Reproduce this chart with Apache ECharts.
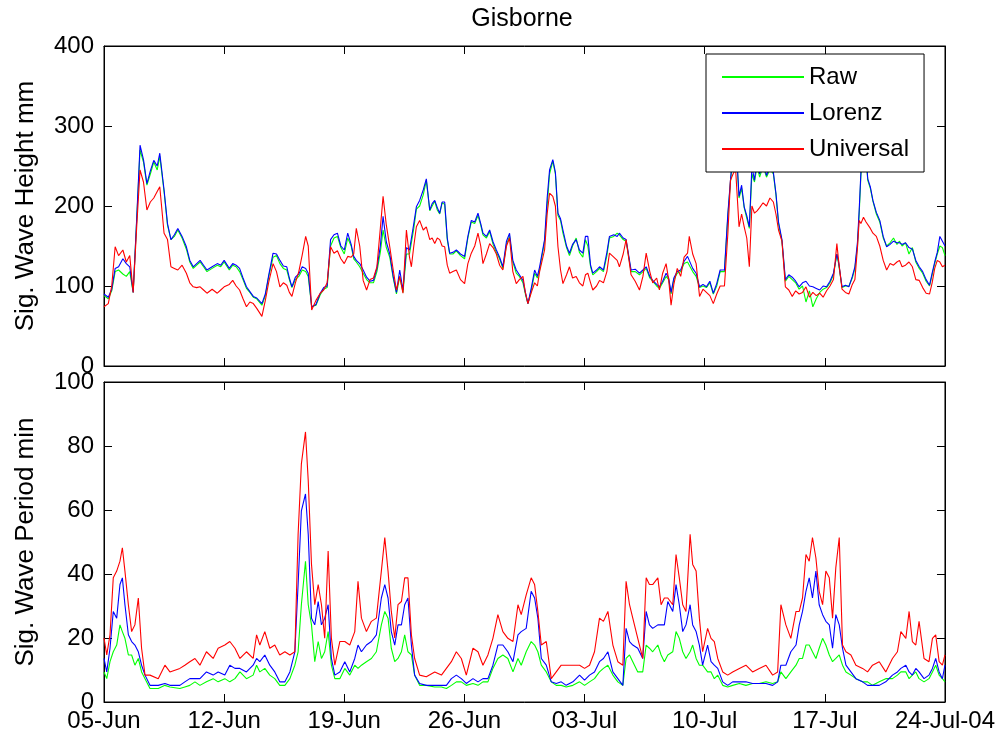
<!DOCTYPE html>
<html>
<head>
<meta charset="utf-8">
<script src="https://cdn.jsdelivr.net/npm/echarts/dist/echarts.min.js"></script>
<style>
html,body{margin:0;padding:0;background:#fff;}
#chart{width:998px;height:738px;}
</style>
</head>
<body>
<div id="chart"></div>
<script>
// ---- Data (days since 05-Jun-2004) ----
var xTickLabels = ['05-Jun','12-Jun','19-Jun','26-Jun','03-Jul','10-Jul','17-Jul','24-Jul-04'];
var seriesNames = ['Raw','Lorenz','Universal'];

// Top panel: significant wave height (mm)
var dayTop = [0.0,0.25,0.45,0.65,0.85,1.1,1.3,1.5,1.7,1.9,2.1,2.3,2.5,2.7,2.9,3.1,3.25,3.5,3.7,3.9,4.1,4.3,4.55,4.8,5.0,5.2,5.4,5.6,5.8,6.0,6.3,6.6,6.8,7.0,7.3,7.5,7.7,7.9,8.1,8.3,8.5,8.7,8.9,9.2,9.4,9.6,9.85,10.05,10.25,10.45,10.65,10.8,10.95,11.15,11.35,11.55,11.75,11.9,12.1,12.35,12.6,12.8,13.0,13.2,13.4,13.6,13.8,14.0,14.2,14.4,14.55,14.7,14.9,15.1,15.3,15.5,15.7,15.9,16.1,16.26,16.45,16.65,16.85,17.04,17.23,17.42,17.62,17.8,17.91,18.05,18.2,18.39,18.6,18.78,18.98,19.12,19.27,19.42,19.56,19.7,19.85,20.0,20.14,20.33,20.53,20.77,21.01,21.2,21.4,21.6,21.79,21.95,22.08,22.28,22.47,22.67,22.86,23.05,23.24,23.45,23.63,23.82,24.02,24.2,24.41,24.55,24.7,24.9,25.09,25.25,25.38,25.67,25.82,25.96,26.15,26.3,26.45,26.6,26.74,26.95,27.12,27.3,27.51,27.7,27.9,28.05,28.19,28.35,28.48,28.7,28.87,29.1,29.3,29.45,29.7,29.9,30.03,30.25,30.42,30.71,30.95,31.2,31.4,31.59,31.8,31.97,32.2,32.36,32.55,32.75,32.9,33.04,33.2,33.4,33.6,33.8,34.0,34.1,34.3,34.5,34.7,34.9,35.1,35.3,35.5,35.7,35.9,36.15,36.35,36.5,36.65,36.8,37.0,37.15,37.3,37.45,37.6,37.75,37.9,38.05,38.2,38.4,38.6,38.8,39.0,39.15,39.3,39.5,39.7,39.9,40.1,40.3,40.5,40.7,40.9,41.1,41.3,41.5,41.7,41.9,42.1,42.3,42.5,42.7,42.8,43.0,43.2,43.4,43.6,43.75,43.9,44.0,44.1,44.25,44.4,44.5,44.65,44.8,45.0,45.2,45.4,45.6,45.8,46.0,46.2,46.35,46.5,46.7,46.9,47.1,47.3,47.5,47.7,47.9,48.1,48.25,48.4,48.55,48.7,48.85,49.0];
var heightRaw = [88,84,94,118,120,115,112,118,92,180,270,255,226,240,255,245,262,218,176,158,162,170,160,146,130,122,126,130,124,118,122,126,124,130,120,126,124,118,108,97,92,86,84,76,88,112,136,138,128,122,120,108,98,108,112,120,118,112,74,76,89,96,98,150,160,162,148,140,160,150,134,130,124,116,108,104,104,118,142,170,148,136,110,90,112,92,140,140,142,172,196,200,214,232,194,200,206,195,190,204,202,158,140,140,144,138,134,160,180,178,188,176,164,160,168,152,142,134,122,152,162,130,116,112,104,90,78,95,116,110,120,156,200,240,256,240,188,182,166,148,138,150,160,142,136,158,150,124,114,118,122,118,138,160,162,166,164,158,156,118,118,114,118,122,110,106,100,97,104,112,108,90,108,116,118,128,130,126,118,112,98,100,98,104,90,100,118,118,188,230,262,285,210,222,198,185,172,240,230,250,236,250,236,246,240,214,178,156,106,112,108,104,96,100,80,94,74,84,92,96,98,104,114,140,128,98,100,100,110,122,150,190,238,275,260,232,222,206,190,180,160,150,154,160,152,156,150,154,140,148,130,122,116,106,100,114,128,140,150,148,138];
var heightLorenz = [90,86,96,122,124,134,128,124,92,182,276,258,228,244,257,250,266,220,178,158,164,172,162,149,132,124,128,132,126,120,124,128,126,132,122,128,126,122,110,99,93,87,85,78,90,114,141,140,132,125,124,110,99,111,115,124,122,116,74,77,91,98,100,158,164,166,150,145,166,152,137,132,128,120,111,106,107,122,150,187,155,140,112,92,120,95,148,145,145,178,199,207,220,234,195,203,207,198,191,205,205,160,141,142,145,140,137,162,182,180,191,178,166,162,170,155,145,136,124,156,166,132,120,114,107,92,78,98,120,112,124,158,210,245,258,242,191,184,170,150,141,152,158,145,141,162,162,126,116,120,124,120,142,162,164,162,166,160,158,120,121,116,120,124,112,107,102,99,106,116,110,92,110,118,120,131,137,132,122,116,99,102,99,106,91,103,120,120,191,232,270,288,212,226,199,188,174,250,232,260,240,256,238,250,242,216,180,158,108,114,111,106,99,104,106,100,99,97,95,100,99,106,116,140,130,99,101,99,112,124,155,195,242,280,262,234,224,207,192,182,162,149,152,156,154,154,152,154,148,146,132,124,118,108,101,116,130,142,162,156,150];
var heightUniversal = [74,78,100,149,138,145,130,138,92,172,245,230,195,205,210,218,224,166,158,124,122,120,126,116,104,99,98,99,95,91,96,91,95,99,102,107,100,95,84,74,80,78,72,62,82,105,128,118,99,104,101,92,87,104,118,139,162,150,70,82,91,95,104,149,141,144,134,128,137,136,140,172,150,107,95,108,110,124,172,212,176,149,120,95,112,91,170,136,124,150,174,182,170,174,158,160,153,160,158,150,149,126,116,118,120,108,103,128,141,150,166,150,128,140,153,148,140,126,120,150,160,118,103,108,112,92,78,92,104,100,118,145,190,216,212,200,149,120,103,114,124,110,112,104,100,114,116,104,95,100,107,104,118,141,136,132,124,140,158,114,106,95,112,141,118,104,110,95,116,128,108,76,102,122,112,136,141,162,140,128,87,96,92,88,78,90,100,100,166,232,240,246,174,190,174,160,124,200,191,194,198,204,200,210,205,190,170,156,99,95,87,94,90,92,99,86,92,88,91,86,94,100,108,153,132,96,92,90,102,108,148,182,178,186,180,182,172,166,162,150,132,120,128,126,130,132,124,126,130,124,108,107,98,91,90,104,122,132,130,124,126];

// Bottom panel: significant wave period (min)
var dayBottom = [0.0,0.16,0.35,0.54,0.74,0.93,1.07,1.22,1.42,1.61,1.8,2.0,2.19,2.39,2.68,3.16,3.55,3.84,4.42,4.71,5.0,5.3,5.59,5.97,6.36,6.65,7.04,7.33,7.63,7.92,8.3,8.69,8.89,9.08,9.37,9.66,9.95,10.24,10.54,10.83,11.12,11.31,11.5,11.74,11.9,12.09,12.28,12.48,12.67,12.86,13.06,13.25,13.45,13.74,14.03,14.32,14.61,14.8,15.0,15.29,15.58,15.87,16.16,16.36,16.55,16.74,16.94,17.13,17.33,17.52,17.71,17.91,18.1,18.39,18.78,19.27,19.66,19.95,20.24,20.53,20.82,21.11,21.5,21.79,22.08,22.37,22.66,22.95,23.24,23.53,23.83,24.12,24.31,24.6,24.89,25.09,25.28,25.48,25.77,26.06,26.35,26.64,26.93,27.32,27.71,28.0,28.29,28.58,28.87,29.1,29.36,29.65,29.94,30.23,30.42,30.62,30.81,31.1,31.39,31.59,31.78,31.97,32.27,32.46,32.65,32.85,33.14,33.33,33.52,33.72,33.91,34.15,34.3,34.5,34.69,34.88,35.17,35.37,35.56,35.76,36.05,36.34,36.63,37.02,37.4,37.79,38.18,38.57,38.96,39.25,39.44,39.73,40.02,40.32,40.51,40.7,40.9,41.09,41.28,41.48,41.67,41.87,42.06,42.26,42.45,42.64,42.84,43.03,43.23,43.52,43.81,44.2,44.49,44.78,45.17,45.55,45.94,46.23,46.43,46.72,46.91,47.1,47.3,47.49,47.78,48.07,48.27,48.46,48.66,48.85,49.0];
var periodRaw = [9.4,7.3,12.6,15.7,17.8,24.1,22,19.9,14.7,14.7,11.5,13.6,9.4,7.3,4.2,4.2,5.2,4.7,4.2,4.7,5.2,6.3,5.2,6.3,7.3,6.3,7.3,6.3,7.3,9.4,7.3,8.4,11.5,9.4,10.5,8.4,7.3,5.2,5.2,7.3,11.5,15.7,30.4,44,30.4,24.1,12.6,18.9,13.6,15.7,22,11.5,7.3,7.3,10.5,8.4,11.5,10.5,11.5,12.6,13.6,15.7,24.1,28.3,26.2,16.8,12.6,13.6,15.7,21,15.7,14.7,8.4,5.2,5.2,4.7,4.7,4.2,5.2,6.3,6.3,5.2,5.8,5.2,6.3,6.3,10.5,13.6,14.7,13.6,9.4,13.6,11.5,15.7,18.9,17.8,15.7,11.5,9.4,6.3,5.2,5.2,4.7,5.2,6.3,5.2,6.3,7.3,9.4,10.5,11.5,8.4,6.3,5.2,13.6,14.7,12.6,9.4,9.4,17.8,16.8,15.7,17.8,14.7,12.6,14.7,15.7,22,19.9,15.7,13.6,15.7,17.8,13.6,11.5,11.5,9.4,9.4,7.3,8.4,5.2,4.7,5.2,5.8,5.2,5.8,5.8,6.3,5.8,6.3,9.4,7.3,9.4,11.5,13.6,13.6,17.8,17.8,15.7,13.6,16.8,19.9,17.8,14.7,12.6,13.6,14.7,11.5,9.4,8.4,7.3,6.3,6.3,5.2,6.3,7.3,7.3,8.4,9.4,9.4,7.3,8.4,9.4,7.3,6.3,7.3,9.4,11.5,8.4,7.3,6.3];
var periodLorenz = [13.6,9.4,16.8,28.3,26.2,36.7,38.8,30.4,21,18.9,17.8,15.7,11.5,8.4,5.2,5.2,5.8,5.2,5.2,6.3,7.3,7.3,7.3,9.4,8.4,9.4,8.4,11.5,10.5,10.5,9.4,11.5,13.6,12.6,14.7,11.5,9.4,6.3,6.3,9.4,15.7,36.7,59.7,65,52.4,26.2,24.1,31.4,24.1,26.2,30.4,13.6,8.4,9.4,12.6,9.4,13.6,17.8,15.7,17.8,18.9,21,32.5,36.7,32.5,22,17.8,24.1,24.1,30.4,32.5,17.8,8.4,5.8,5.2,5.2,5.2,5.2,7.3,8.4,7.3,5.8,7.3,6.3,7.3,7.3,11.5,17.8,17.8,15.7,12.6,21,22,23,34.6,32.5,26.2,13.6,11.5,6.3,5.8,6.3,5.2,6.3,8.4,6.8,8.4,9.4,12.6,13.6,15.7,9.4,7.3,5.2,23,18.9,17.8,16.8,13.6,28.3,24.1,23,24.1,24.1,24.1,31.4,28.3,36.7,30.4,22,24.1,30.4,24.1,22,17.8,11.5,17.8,12.6,11.5,10.5,6.3,5.2,6.3,6.3,6.3,5.8,5.8,5.8,5.2,6.3,11.5,11.5,15.7,17.8,24.1,28.3,34.6,38.8,32.5,40.9,30.4,27.3,25.2,24.1,16.8,27.3,24.1,16.8,11.5,9.4,7.3,6.3,5.2,5.2,5.2,6.3,8.4,9.4,10.5,11.5,9.4,8.4,10.5,9.4,7.3,8.4,10.5,13.6,9.4,7.3,11.5];
var periodUniversal = [20,14.7,21,38.8,40.9,44,48.2,40.9,30.4,22,24.1,32.5,16.8,8.4,8.4,7.3,11.5,9.4,10.5,11.5,12.6,13.6,11.5,15.7,13.6,16.8,17.8,18.9,16.8,13.6,15.7,13.6,21,17.8,22,16.8,17.8,14.7,15.7,14.7,15.7,52.4,74.4,84.4,69.2,43,30.4,36.7,30.4,19.9,47.2,19.9,11.5,18.9,18.9,17.8,22,37.7,26.2,22,25.2,26.2,40.9,51.4,40.9,28.3,20,30.4,31.4,38.8,38.8,21,13.6,8.4,7.9,9.4,8.4,10.5,12.6,15.7,13.6,8.4,16.8,15.7,11.5,14.7,19.9,27.3,22,19.9,18.9,30.4,27.3,33.5,38.8,36.7,28.3,17.8,18.9,7.3,9.4,11.5,11.5,11.5,11.5,10.5,11.5,15.7,26.2,25.2,28.3,17.8,12.6,11.5,37.7,30.4,26.2,19.9,13.6,38.8,36.7,36.7,38.8,30.4,32.5,32.5,30.4,46.1,38.8,30.4,28.3,52.4,43,40.9,26.2,15.7,23,19.9,18.9,13.6,9.4,8.4,9.4,10.5,11.5,9.4,10.5,11.5,8.4,9.4,30.4,24.1,19.9,28.3,28.3,32.5,46.1,44,51.4,45,34.6,30.4,40.9,38.8,26.2,42,51.4,17.8,15.7,14.7,11.5,10.5,9.4,11.5,12.6,9.4,13.6,15.7,22,19.9,28.3,18.9,17.8,25.2,13.6,12.6,19.9,21,12.6,11.5,14.7];

// ---- Build chart ----
function pairs(t, v) { return t.map(function (x, i) { return [x, v[i]]; }); }

var FONT = "'Liberation Sans', Arial, Helvetica, sans-serif";
var colors = {Raw: '#00ff00', Lorenz: '#0000ff', Universal: '#ff0000'};

function xAx(grid, pos, labels) {
  return {
    type: 'value', gridIndex: grid, position: pos, min: 0, max: 49, interval: 7,
    axisLine: {show: true, onZero: false, lineStyle: {color: '#000', width: 1}},
    axisTick: {show: true, inside: true, length: 8, lineStyle: {color: '#000'}},
    splitLine: {show: false},
    axisLabel: labels ? {
      show: true, margin: 7, color: '#000', fontSize: 24, fontFamily: FONT,
      showMinLabel: true, showMaxLabel: true,
      formatter: function (v) { return xTickLabels[Math.round(v / 7)]; }
    } : {show: false}
  };
}
function yAx(grid, pos, max, interval, name) {
  var a = {
    type: 'value', gridIndex: grid, position: pos, min: 0, max: max, interval: interval,
    axisLine: {show: true, onZero: false, lineStyle: {color: '#000', width: 1}},
    axisTick: {show: true, inside: true, length: 8, lineStyle: {color: '#000'}},
    splitLine: {show: false},
    axisLabel: name ? {show: true, margin: 10, color: '#000', fontSize: 24, fontFamily: FONT} : {show: false}
  };
  if (name) {
    a.name = name; a.nameLocation = 'middle'; a.nameGap = 65;
    a.nameTextStyle = {color: '#000', fontSize: 26, fontFamily: FONT};
  }
  return a;
}

var series = [];
var topSets = [heightRaw, heightLorenz, heightUniversal];
var botSets = [periodRaw, periodLorenz, periodUniversal];
seriesNames.forEach(function (n, i) {
  series.push({
    name: n, type: 'line', xAxisIndex: 0, yAxisIndex: 0, data: pairs(dayTop, topSets[i]),
    symbol: 'none', lineStyle: {color: colors[n], width: 1.1}, itemStyle: {color: colors[n]},
    z: 2 + i, animation: false, silent: true
  });
});
seriesNames.forEach(function (n, i) {
  series.push({
    name: n, type: 'line', xAxisIndex: 2, yAxisIndex: 2, data: pairs(dayBottom, botSets[i]),
    symbol: 'none', lineStyle: {color: colors[n], width: 1.1}, itemStyle: {color: colors[n]},
    z: 2 + i, animation: false, silent: true
  });
});

var chart = echarts.init(document.getElementById('chart'), null, {renderer: 'canvas'});
chart.setOption({
  backgroundColor: '#fff',
  animation: false,
  textStyle: {fontFamily: FONT, color: '#000'},
  title: {
    text: 'Gisborne', left: 517, top: 2, textAlign: 'center',
    textStyle: {fontSize: 25, fontWeight: 'normal', color: '#000', fontFamily: FONT}
  },
  legend: {
    data: seriesNames.map(function (n) { return {name: n, icon: 'rect'}; }),
    orient: 'vertical', left: 706, top: 54,
    itemWidth: 82, itemHeight: 2, itemGap: 12, padding: [11, 15, 11, 16],
    backgroundColor: '#fff', borderColor: '#000', borderWidth: 1, borderRadius: 0,
    textStyle: {fontSize: 24, color: '#000', fontFamily: FONT},
    selectedMode: false, z: 10
  },
  grid: [
    {left: 104, top: 46, width: 841, height: 320, show: true, borderColor: '#000', borderWidth: 1, backgroundColor: '#fff'},
    {left: 104, top: 382, width: 841, height: 320, show: true, borderColor: '#000', borderWidth: 1, backgroundColor: '#fff'}
  ],
  xAxis: [xAx(0, 'bottom', false), xAx(0, 'top', false), xAx(1, 'bottom', true), xAx(1, 'top', false)],
  yAxis: [
    yAx(0, 'left', 400, 100, 'Sig. Wave Height mm'), yAx(0, 'right', 400, 100, null),
    yAx(1, 'left', 100, 20, 'Sig. Wave Period min'), yAx(1, 'right', 100, 20, null)
  ],
  series: series
});
</script>
</body>
</html>
